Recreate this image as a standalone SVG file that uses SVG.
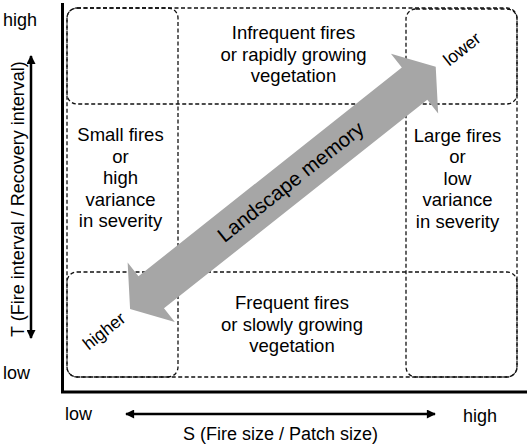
<svg xmlns="http://www.w3.org/2000/svg" width="529" height="447" viewBox="0 0 529 447">
<style>
  text { font-family: "Liberation Sans", Arial, sans-serif; fill: #000; }
  .cell { font-size: 18.5px; text-anchor: middle; }
  .ax { font-size: 18px; }
  .dash { fill: none; stroke: #111; stroke-width: 1.3; stroke-dasharray: 4 2.5; }
  .axis { fill: none; stroke: #000; stroke-width: 3; }
  .darr { fill: none; stroke: #000; stroke-width: 2.5; marker-start: url(#ah); marker-end: url(#ah); }
</style>
<defs>
  <marker id="ah" viewBox="0 0 10 10" refX="9" refY="5" markerWidth="4" markerHeight="3.6" orient="auto-start-reverse" markerUnits="strokeWidth">
    <path d="M0,0 L10,5 L0,10 Z" fill="#000"/>
  </marker>
</defs>

<g id="cells-frames">
  <rect id="row-top" class="dash" x="67" y="8" width="450" height="96" rx="10"/>
  <rect id="row-bottom" class="dash" x="67" y="272" width="450" height="105" rx="10"/>
  <rect id="col-left" class="dash" x="67" y="8" width="111" height="369" rx="10"/>
  <rect id="col-right" class="dash" x="406" y="9" width="111" height="368" rx="10"/>
</g>

<g id="axes">
  <polyline class="axis" points="62.5,3 62.5,392 527,392"/>
</g>

<g id="connectors">
  <line class="darr" x1="31" y1="56" x2="31" y2="338"/>
  <line class="darr" x1="126" y1="414" x2="435" y2="414"/>
</g>

<g id="axis-labels">
  <text class="ax" x="3" y="26">high</text>
  <text class="ax" x="3" y="379">low</text>
  <text class="ax" x="65" y="420">low</text>
  <text class="ax" x="463" y="422">high</text>
  <text class="ax" x="280.5" y="440" text-anchor="middle">S (Fire size / Patch size)</text>
  <text class="ax" transform="translate(23.5,199) rotate(-90)" text-anchor="middle" font-size="19">T (Fire interval / Recovery interval)</text>
</g>

<g id="cell-top">
  <text class="cell" x="293.5" y="39">Infrequent fires</text>
  <text class="cell" x="293.5" y="60.5">or rapidly growing</text>
  <text class="cell" x="293.5" y="82">vegetation</text>
</g>
<g id="cell-bottom">
  <text class="cell" x="292" y="309">Frequent fires</text>
  <text class="cell" x="292" y="330.5">or slowly growing</text>
  <text class="cell" x="292" y="352">vegetation</text>
</g>
<g id="cell-left">
  <text class="cell" x="120.5" y="141">Small fires</text>
  <text class="cell" x="120.5" y="162.5">or</text>
  <text class="cell" x="120.5" y="184">high</text>
  <text class="cell" x="120.5" y="205.5">variance</text>
  <text class="cell" x="120.5" y="227">in severity</text>
</g>
<g id="cell-right">
  <text class="cell" x="457.5" y="141.5">Large fires</text>
  <text class="cell" x="457.5" y="163">or</text>
  <text class="cell" x="457.5" y="184.5">low</text>
  <text class="cell" x="457.5" y="206">variance</text>
  <text class="cell" x="457.5" y="227.5">in severity</text>
</g>

<g id="memory-arrow" transform="translate(282.9,187.95) rotate(-38.4)">
  <polygon points="-195,0 -168,-38 -168,-20.5 168,-20.5 168,-38 195,0 168,38 168,20.5 -168,20.5 -168,38" fill="#a6a6a6"/>
  <text x="10" y="7" text-anchor="middle" font-size="20.5">Landscape memory</text>
</g>
<g id="label-lower">
  <text transform="translate(465.7,53.7) rotate(-38.4)" text-anchor="middle" font-size="17.5">lower</text>
</g>
<g id="label-higher">
  <text transform="translate(107.7,335.7) rotate(-38.4)" text-anchor="middle" font-size="17.5">higher</text>
</g>
</svg>
